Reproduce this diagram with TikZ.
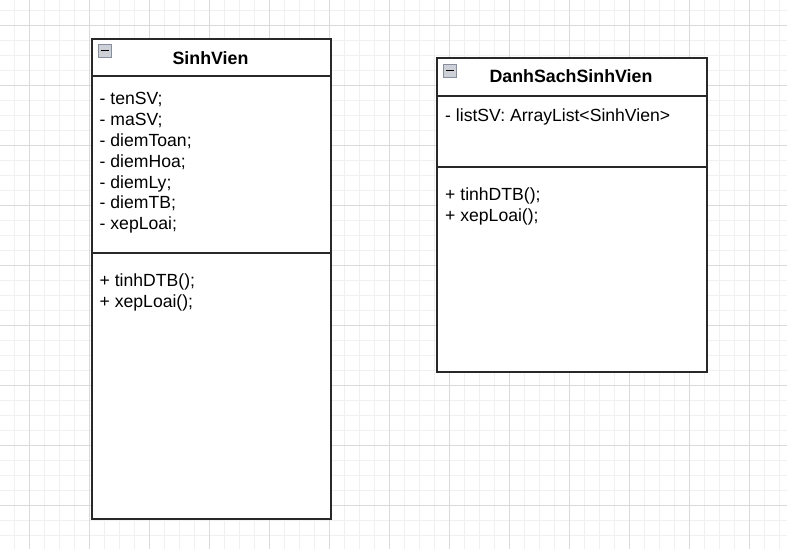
\documentclass[tikz,border=0pt]{standalone}
\usepackage{fontspec}
\setmainfont{Liberation Sans}
\definecolor{gridminor}{RGB}{240,240,240}
\definecolor{gridmajor}{RGB}{218,218,218}
\definecolor{boxline}{RGB}{40,40,40}
\definecolor{iconfill}{RGB}{205,208,214}
\definecolor{iconline}{RGB}{135,142,156}
\tikzset{
  minorline/.style={gridminor, line width=1pt},
  majorline/.style={gridmajor, line width=1pt},
  umlbox/.style={draw=boxline, line width=1.6pt, fill=white, rectangle, inner sep=0pt, anchor=north west},
  sepline/.style={boxline, line width=1.3pt},
  attr/.style={inner sep=0pt, anchor=base west, font=\fontsize{17.6}{20}\selectfont},
  title/.style={inner sep=0pt, anchor=base, font=\fontsize{17.8}{20}\selectfont\bfseries},
  icon/.style={draw=iconline, fill=iconfill, line width=1pt, minimum size=13pt, inner sep=0pt, rectangle,
    path picture={\draw[black, line width=1.3pt] ([xshift=2.5pt]path picture bounding box.west) -- ([xshift=-2.5pt]path picture bounding box.east);}}
}
\begin{document}
\begin{tikzpicture}[x=1pt,y=-1pt]
\useasboundingbox (0,0) rectangle (787,549);
\fill[white] (0,0) rectangle (787,549);
% grid
\foreach \x in {14,29,...,787} \draw[minorline] (\x,0) -- (\x,549);
\foreach \y in {10,25,...,549} \draw[minorline] (0,\y) -- (787,\y);
\foreach \x in {29,89,...,787} \draw[majorline] (\x,0) -- (\x,549);
\foreach \y in {25,85,...,549} \draw[majorline] (0,\y) -- (787,\y);

% SinhVien class
\node[umlbox, minimum width=239pt, minimum height=480pt] (sv) at (91,38) {};
\draw[sepline] ([yshift=-38pt]sv.north west) -- ([yshift=-38pt]sv.north east);
\draw[sepline] ([yshift=-215pt]sv.north west) -- ([yshift=-215pt]sv.north east);
\node[icon] (svicon) at (104.5,50.5) {};
\node[title] (svtitle) at (210.5,64.3) {SinhVien};
\node[attr] (sva1) at (99.5,104.8) {- tenSV;};
\node[attr] (sva2) at (99.5,125.6) {- maSV;};
\node[attr] (sva3) at (99.5,146.4) {- diemToan;};
\node[attr] (sva4) at (99.5,167.2) {- diemHoa;};
\node[attr] (sva5) at (99.5,188.0) {- diemLy;};
\node[attr] (sva6) at (99.5,208.8) {- diemTB;};
\node[attr] (sva7) at (99.5,229.6) {- xepLoai;};
\node[attr] (svm1) at (99.5,286.7) {+ tinhDTB();};
\node[attr] (svm2) at (99.5,307.5) {+ xepLoai();};

% DanhSachSinhVien class
\node[umlbox, minimum width=270pt, minimum height=314pt] (ds) at (436,57) {};
\draw[sepline] ([yshift=-39pt]ds.north west) -- ([yshift=-39pt]ds.north east);
\draw[sepline] ([yshift=-110pt]ds.north west) -- ([yshift=-110pt]ds.north east);
\node[icon] (dsicon) at (449.5,70.5) {};
\node[title] (dstitle) at (571,82.5) {DanhSachSinhVien};
\node[attr] (dsa1) at (445,121.9) {- listSV: ArrayList<SinhVien>};
\node[attr] (dsm1) at (445,200.7) {+ tinhDTB();};
\node[attr] (dsm2) at (445,221.5) {+ xepLoai();};
\end{tikzpicture}
\end{document}
